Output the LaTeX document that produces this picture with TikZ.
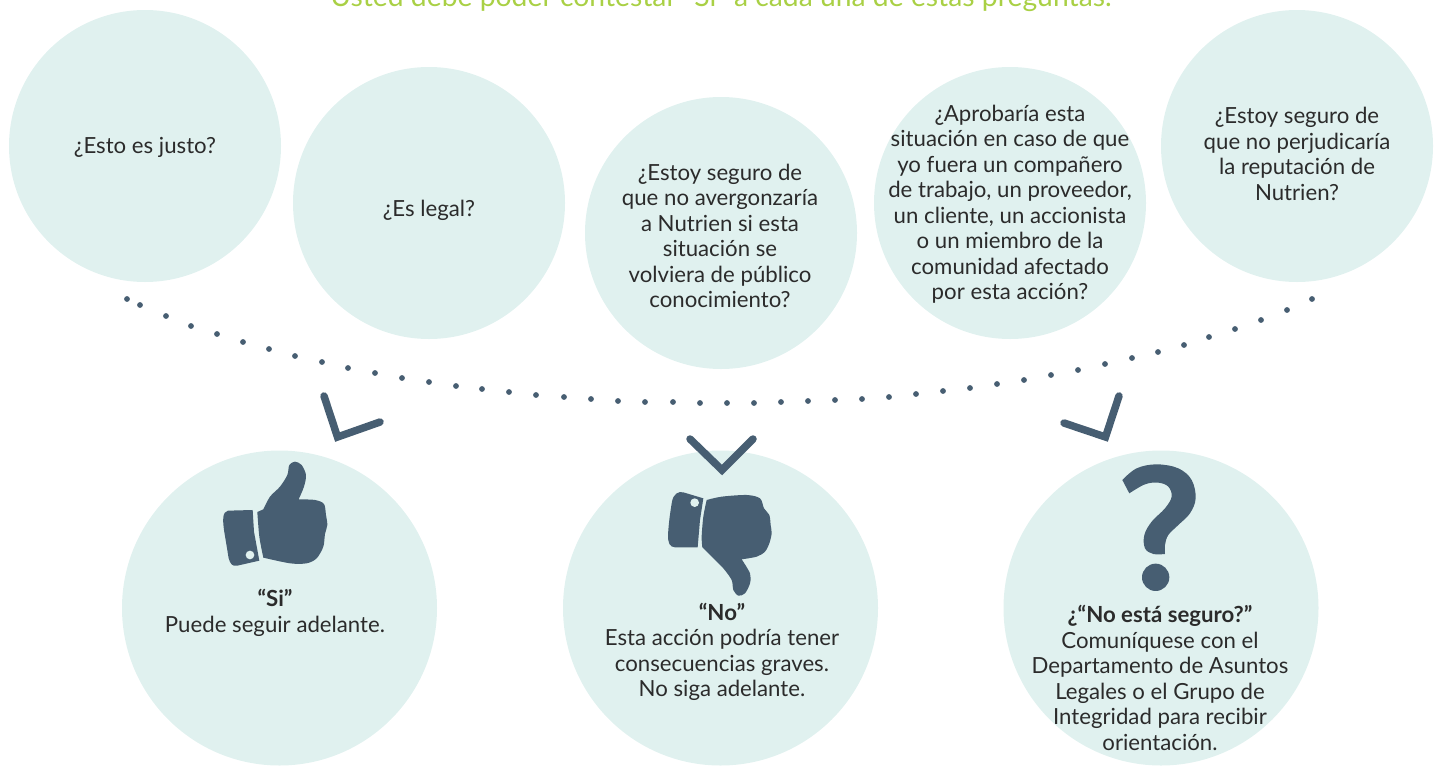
\documentclass[tikz,border=0pt]{standalone}
\usepackage{fontspec}
\setmainfont{Lato}
\definecolor{disc}{HTML}{E0F1EF}
\definecolor{slate}{HTML}{475E72}
\definecolor{lime}{HTML}{A9D045}
\definecolor{ink}{HTML}{2B2B2B}
\tikzset{
  small disc/.style={circle,fill=disc,minimum size=272pt,inner sep=0pt},
  big disc/.style={circle,fill=disc,minimum size=315pt,inner sep=0pt},
  copy/.style={align=center,text=ink,inner sep=0pt,font=\fontsize{22.2}{25.5}\selectfont},
  chev/.style={draw=slate,line width=7.5pt,line cap=round,miter limit=10},
  iconfill/.style={fill=slate,draw=none},
  iconz/.style={x=0.3333pt,y=-0.3333pt}
}
\begin{document}
\begin{tikzpicture}[x=1pt,y=-1pt]
\useasboundingbox (0,0) rectangle (1440,766);
\node[small disc] (q1) at (145,146) {};
\node[small disc] (q2) at (429,203) {};
\node[small disc] (q3) at (721,233) {};
\node[small disc] (q4) at (1010,203) {};
\node[small disc] (q5) at (1297,146) {};
\node[big disc] (a1) at (279.5,608) {};
\node[big disc] (a2) at (720.5,608) {};
\node[big disc] (a3) at (1161,608) {};

\node[text=lime,inner sep=0pt,anchor=base,font=\fontsize{28.3}{30}\selectfont] (title) at (721,6) {Usted debe poder contestar “Si” a cada una de estas preguntas.};

\node[copy] (t1) at (145,147) {¿Esto es justo?};
\node[copy] (t2) at (429,210) {¿Es legal?};
\node[copy] (t3) at (720,236) {¿Estoy seguro de\\que no avergonzaría\\a Nutrien si esta\\situación se\\volviera de público\\conocimiento?};
\node[copy] (t4) at (1010,204) {¿Aprobaría esta\\situación en caso de que\\yo fuera un compañero\\de trabajo, un proveedor,\\un cliente, un accionista\\o un miembro de la\\comunidad afectado\\por esta acción?};
\node[copy] (t5) at (1297,154) {¿Estoy seguro de\\que no perjudicaría\\la reputación de\\Nutrien?};

\node[copy] (t6) at (275,613) {\textbf{“Si”}\\Puede seguir adelante.};
\node[copy] (t7) at (722,652) {\textbf{“No”}\\Esta acción podría tener\\consecuencias graves.\\No siga adelante.};
\node[copy] (t8) at (1160,678) {\textbf{¿“No está seguro?”}\\Comuníquese con el\\Departamento de Asuntos\\Legales o el Grupo de\\Integridad para recibir\\orientación.};

% dotted arc
\foreach \px/\py in {127/299,140/305,166/316,191/326,217/334,243/342,269/349,295/356,322/362,348/368,375/373,402/378,429/382,456/386,482/389,509/392,536/395,564/397,591/399,618/401,645/402,673/402,700/403,727/403,754/403,781/402,808/401,835/400,862/399,889/397,916/394,943/391,970/388,997/384,1024/380,1051/375,1078/370,1105/364,1132/358,1158/352,1184/345,1209/337,1235/329,1261/320,1287/310,1312/299}
  \fill[slate] (\px,\py) circle (2.9pt);

% chevrons
\draw[chev] (324,396) -- (337.5,437) -- (380,422);
\draw[chev] (690,439) -- (722,470) -- (753,439);
\draw[chev] (1119,396) -- (1105.5,437) -- (1064,423);

% thumb up
\begin{scope}[shift={(200,390)},iconz]
  \fill[iconfill] (84,362) -- (158,360) -- (162,425) -- (178,512) -- (112,527) .. controls (97,530) and (91,522) .. (86,505) -- (72,420) .. controls (68,390) and (67,365) .. (84,362) -- cycle;
  \fill[disc] (150,495) circle (13);
  \fill[iconfill] (172,366) -- (190,358) -- plot[smooth,tension=0.5] coordinates {(190,358)(210,320)(240,290)(262,255)(268,225)(285,215)(305,225)(318,255)(312,290)(296,328)} -- plot[smooth,tension=0.5] coordinates {(296,328)(345,330)(372,342)(378,375)(382,405)(375,432)(370,470)(350,505)(320,520)(270,520)(190,503)} -- plot[smooth,tension=0.5] coordinates {(190,503)(178,440)(172,366)} -- cycle;
\end{scope}

% thumb down
\begin{scope}[shift={(650,430)},iconz]
  \fill[iconfill] (100,187) -- (160,205) -- (150,270) -- (143,352) -- (75,352) .. controls (58,351) and (54,338) .. (54,315) .. controls (56,280) and (60,250) .. (66,215) .. controls (70,192) and (85,183) .. (100,187) -- cycle;
  \fill[disc] (134,218) circle (13);
  \fill[iconfill] (170,210) -- plot[smooth,tension=0.5] coordinates {(170,210)(215,200)(290,195)(330,205)(342,235)(358,255)(362,285)(365,310)(358,340)(345,365)(320,380)(275,388)} -- plot[smooth,tension=0.5] coordinates {(275,388)(300,430)(300,460)(285,490)(265,497)(250,480)(245,450)(220,415)(190,385)(157,352)} -- plot[smooth,tension=0.5] coordinates {(157,352)(155,320)(160,260)(170,210)} -- cycle;
\end{scope}

% question mark
\begin{scope}[shift={(1050,385)},iconz]
  \fill[iconfill] (238,325) -- (217,285) -- plot[smooth,tension=0.6] coordinates {(217,285)(260,250)(320,238)(385,250)(425,285)(437,340)(420,385)(385,420)(355,450)(345,480)(345,507)} -- plot[smooth,tension=0.6] coordinates {(345,507)(310,507)(285,490)(283,450)(305,410)(345,370)(365,335)(355,305)(325,293)(285,298)(238,325)} -- cycle;
  \fill[iconfill] (317,577) circle (41);
\end{scope}
\end{tikzpicture}
\end{document}
